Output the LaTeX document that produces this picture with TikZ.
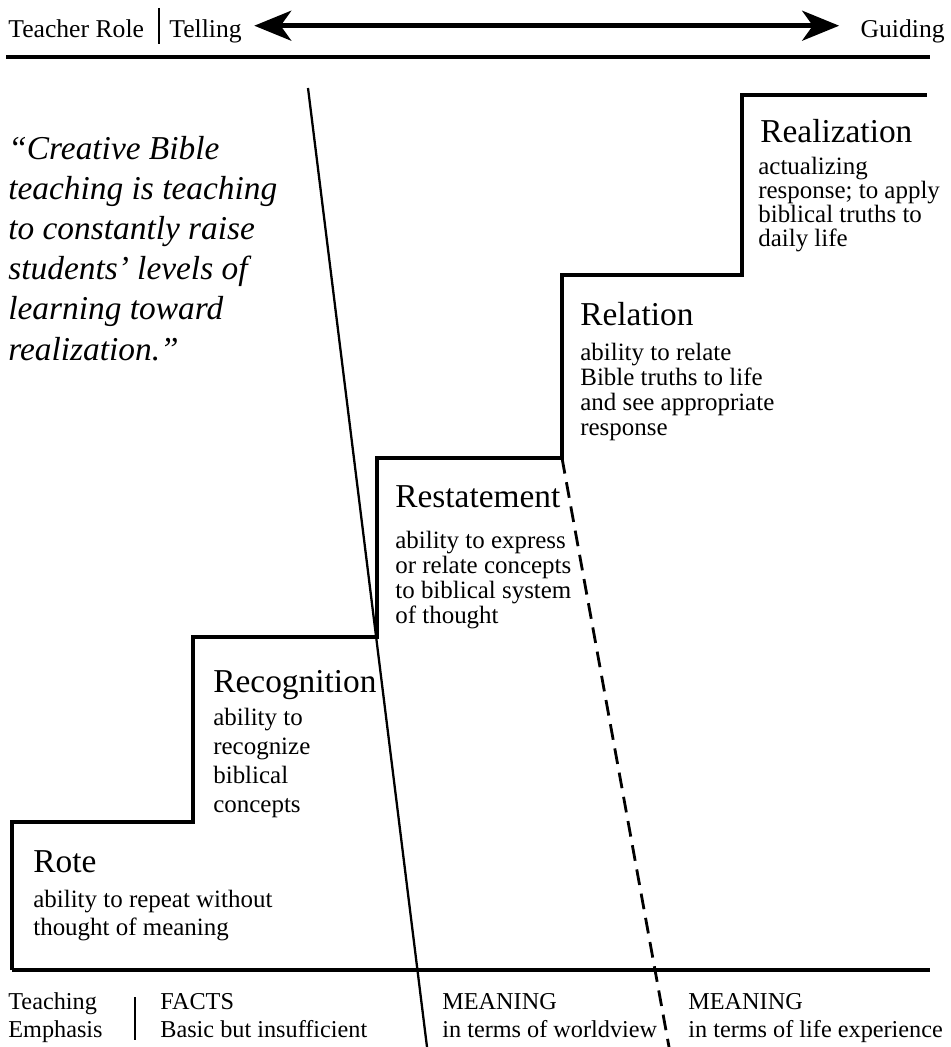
\documentclass[tikz,border=0pt]{standalone}
\usepackage{fontspec}
\setmainfont{Liberation Serif}
\usetikzlibrary{arrows.meta}

\tikzset{
  rule/.style={line width=2.6pt},
  stair/.style={line width=2.3pt, line join=miter},
  divider/.style={line width=1.3pt},
  bar/.style={line width=0.9pt},
  role arrow/.style={line width=2.8pt, {Stealth[length=21pt,width=17pt,inset=6pt]}-{Stealth[length=21pt,width=17pt,inset=6pt]}},
  role text/.style={inner sep=0pt, anchor=base west, font=\fontsize{14.6}{17}\selectfont},
  label text/.style={inner sep=0pt, anchor=base west, align=left, font=\fontsize{13.8}{15.4}\selectfont},
  level title/.style={inner sep=0pt, anchor=base west, font=\fontsize{19}{22}\selectfont},
  level text/.style={inner sep=0pt, anchor=base west, align=left, font=\fontsize{14.2}{14.2}\selectfont},
}

\begin{document}
\begin{tikzpicture}[x=0.02cm, y=-0.02cm]
  \useasboundingbox (0,0) rectangle (950,1047);

  % top line: teacher role
  \node[role text] (role) at (8,38) {Teacher Role};
  \node[role text] (telling) at (169,38) {Telling};
  \node[role text, anchor=base east] (guiding) at (945,38) {Guiding};
  \draw[bar] (159,8) -- (159,44);
  \draw[role arrow, shorten <=7pt, shorten >=12pt] ([yshift=3.5pt]telling.east) -- ([yshift=3.5pt]guiding.west);
  \draw[rule] (6,57) -- (930,57);

  % quote (base = last line)
  \node[inner sep=0pt, anchor=base west, align=left, font=\itshape\fontsize{19}{22.8}\selectfont] (quote) at (8,360)
    {“Creative Bible\\teaching is teaching\\to constantly raise\\students’ levels of\\learning toward\\realization.”};

  % staircase
  \draw[stair] (12,970) |- (193,822) |- (377,637) |- (562,458) |- (742,275) |- (927,95);
  \draw[rule] (12,970) -- (930,970);

  % dividing lines
  \coordinate (facts top) at (308,88);
  \coordinate (facts bottom) at (427,1047);
  \coordinate (view top) at (562,458);
  \coordinate (view bottom) at (669,1047);
  \draw[divider] (facts top) -- (facts bottom);
  \draw[divider, line width=1.6pt, dash pattern=on 9pt off 5pt] (view top) -- (view bottom);

  % levels
  \node[level title] (rote) at (33,872) {Rote};
  \node[level text, font=\fontsize{14.2}{15.4}\selectfont] (rote text) at (33,935) {ability to repeat without\\thought of meaning};

  \node[level title] (recognition) at (213,692) {Recognition};
  \node[level text, font=\fontsize{14.2}{16.5}\selectfont] (recognition text) at (213,812) {ability to\\recognize\\biblical\\concepts};

  \node[level title] (restatement) at (395,507) {Restatement};
  \node[level text] (restatement text) at (395,623) {ability to express\\or relate concepts\\to biblical system\\of thought};

  \node[level title] (relation) at (580,325) {Relation};
  \node[level text] (relation text) at (580,435) {ability to relate\\Bible truths to life\\and see appropriate\\response};

  \node[level title] (realization) at (760,143) {Realization};
  \node[level text, font=\fontsize{14.2}{13.7}\selectfont] (realization text) at (758,247) {actualizing\\response; to apply\\biblical truths to\\daily life};

  % bottom line: teaching emphasis (base = last line)
  \node[label text] (emphasis) at (8,1037) {Teaching\\Emphasis};
  \draw[bar] (135,997) -- (135,1040);
  \node[label text] (facts) at (160,1037) {FACTS\\Basic but insufficient};
  \node[label text] (worldview) at (442,1037) {MEANING\\in terms of worldview};
  \node[label text] (life) at (688,1037) {MEANING\\in terms of life experience};
\end{tikzpicture}
\end{document}
